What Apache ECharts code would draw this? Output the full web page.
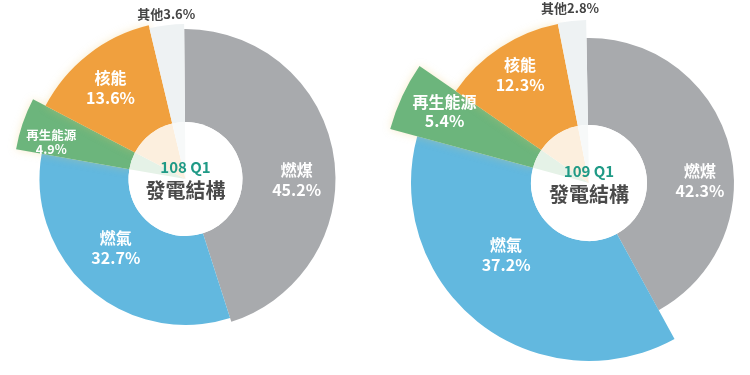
<!DOCTYPE html>
<html>
<head>
<meta charset="utf-8">
<script src="https://cdn.jsdelivr.net/npm/echarts@6/dist/echarts.min.js"></script>
<style>
html,body{margin:0;padding:0;background:#fff;}
#c{width:750px;height:375px;}
</style>
</head>
<body>
<div id="c"></div>
<script>
// ---- data ----
const categories = ['燃煤', '燃氣', '再生能源', '核能', '其他'];
const values108 = [45.2, 32.7, 4.9, 13.6, 3.6];
const values109 = [42.3, 37.2, 5.4, 12.3, 2.8];
const periodLabels = ['108 Q1', '109 Q1'];
const centerTitle = '發電結構';

// ---- style ----
const colors = ['#a8aaad', '#62b8df', '#6cb57c', '#f0a03e', '#eef2f3'];
const FONT = '"Noto Sans CJK TC", "Noto Sans CJK SC", sans-serif';

function mix(hex, a) {
  const n = parseInt(hex.slice(1), 16);
  const r = (n >> 16) & 255, g = (n >> 8) & 255, b = n & 255;
  const f = c => Math.round(c + (255 - c) * a);
  return 'rgb(' + f(r) + ',' + f(g) + ',' + f(b) + ')';
}
const tintColors = ['#ffffff', '#ffffff', mix(colors[2], 0.82), mix(colors[3], 0.83), mix(colors[4], 0.5)];

const layouts = [
  { center: [185.5, 179], r0: 57, radii: [150, 146, 172, 158, 155], start: 90.5,
    offs: [[6, 18], [-1, -10], [-23, 1], [-7, -4], [-6, -57]], fs: [16, 16, 12.5, 16, 13], lh: [20, 20, 14, 20, 16] },
  { center: [589, 183], r0: 58, radii: [145, 178, 206, 162, 163], start: 91,
    offs: [[10, 25], [-8, -23], [-22, -15], [-7, -14], [-7, -62]], fs: [16, 16, 16, 16, 13], lh: [20, 20, 19, 20, 16] }
];

function buildSeries(values, period, L) {
  const out = [];
  for (let k = 0; k < categories.length; k++) {
    const isOther = k === 4;
    out.push({
      type: 'pie',
      center: L.center,
      radius: [L.r0, L.radii[k]],
      startAngle: L.start,
      clockwise: true,
      silent: true,
      animation: false,
      avoidLabelOverlap: false,
      padAngle: 0,
      labelLine: { show: false },
      label: {
        position: 'inside',
        fontFamily: FONT,
        formatter: p => isOther
          ? '{o|' + p.name + p.value.toFixed(1) + '%}'
          : '{n|' + p.name + '}\n{v|' + p.value.toFixed(1) + '%}',
        rich: {
          n: { color: '#fff', fontWeight: 'bold', fontSize: L.fs[k], lineHeight: L.lh[k], fontFamily: FONT, align: 'center' },
          v: { color: '#fff', fontWeight: 'bold', fontSize: L.fs[k], lineHeight: L.lh[k], fontFamily: FONT, align: 'center' },
          o: { color: '#444', fontWeight: 'bold', fontSize: L.fs[k], fontFamily: FONT }
        }
      },
      labelLayout: p => p.dataIndex === k ? { dx: L.offs[k][0], dy: L.offs[k][1] } : {},
      data: values.map((v, i) => ({
        name: categories[i],
        value: v,
        itemStyle: i === k ? {
          color: colors[i], borderWidth: 0,
          shadowBlur: (i === 2 || i === 3) ? 8 : 0,
          shadowColor: 'rgba(235,200,110,0.35)'
        } : { color: 'rgba(0,0,0,0)', borderWidth: 0 },
        label: { show: i === k }
      }))
    });
  }
  // inner circle (pale tints) with center title
  out.push({
    type: 'pie',
    center: L.center,
    radius: [0, L.r0],
    startAngle: L.start,
    clockwise: true,
    silent: true,
    animation: false,
    avoidLabelOverlap: false,
    labelLine: { show: false },
    label: {
      position: 'center',
      formatter: () => '{p|' + period + '}\n{t|' + centerTitle + '}',
      rich: {
        p: { color: '#1f9a86', fontWeight: 'bold', fontSize: 15, lineHeight: 22, fontFamily: FONT, align: 'center' },
        t: { color: '#4a4a4a', fontWeight: 'bold', fontSize: 20, lineHeight: 24, fontFamily: FONT, align: 'center' }
      }
    },
    data: values.map((v, i) => ({
      name: categories[i], value: v,
      itemStyle: { color: tintColors[i], borderWidth: 0 },
      label: { show: i === 0 }
    }))
  });
  return out;
}

const chart = echarts.init(document.getElementById('c'), null, { renderer: 'canvas' });
chart.setOption({
  backgroundColor: '#ffffff',
  animation: false,
  series: [].concat(
    buildSeries(values108, periodLabels[0], layouts[0]),
    buildSeries(values109, periodLabels[1], layouts[1])
  )
});
</script>
</body>
</html>
